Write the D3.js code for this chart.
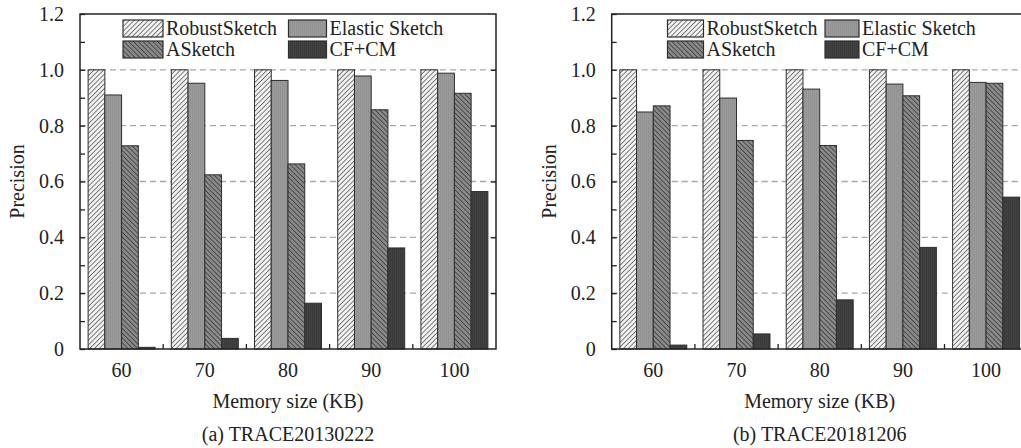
<!DOCTYPE html>
<html>
<head>
<meta charset="utf-8">
<script src="https://cdn.jsdelivr.net/npm/d3@7"></script>
<style>
  html, body { margin: 0; padding: 0; background: #fff; overflow: hidden; }
  svg { display: block; font-family: "Liberation Serif", serif; }
</style>
</head>
<body>
<svg id="fig" width="1021" height="448"></svg>
<script>
// Memory sizes (KB) on the x axis
const categories = ["60", "70", "80", "90", "100"];
const seriesNames = ["RobustSketch", "Elastic Sketch", "ASketch", "CF+CM"];

// Precision, trace (a) TRACE20130222
const traceA_robust  = [1.0, 1.0, 1.0, 1.0, 1.0];
const traceA_elastic = [0.910, 0.952, 0.962, 0.978, 0.988];
const traceA_asketch = [0.728, 0.624, 0.663, 0.857, 0.916];
const traceA_cfcm    = [0.006, 0.038, 0.164, 0.362, 0.564];

// Precision, trace (b) TRACE20181206
const traceB_robust  = [1.0, 1.0, 1.0, 1.0, 1.0];
const traceB_elastic = [0.849, 0.899, 0.931, 0.949, 0.955];
const traceB_asketch = [0.871, 0.747, 0.729, 0.907, 0.952];
const traceB_cfcm    = [0.014, 0.054, 0.176, 0.364, 0.544];

const yTicks = [0, 0.1, 0.2, 0.3, 0.4, 0.5, 0.6, 0.7, 0.8, 0.9, 1.0, 1.1, 1.2];
const yGrid = [0.2, 0.4, 0.6, 0.8, 1.0];

const svg = d3.select("#fig");
const FONT = "Liberation Serif, serif";
const FS = 20;

// ---- fill patterns ----
const defs = svg.append("defs");
const pRobust = defs.append("pattern").attr("id", "pat-robust")
  .attr("patternUnits", "userSpaceOnUse").attr("width", 3.4).attr("height", 3.4)
  .attr("patternTransform", "rotate(45)");
pRobust.append("rect").attr("width", 3.4).attr("height", 3.4).attr("fill", "#f2f2f2");
pRobust.append("line").attr("x1", 0).attr("y1", 0).attr("x2", 0).attr("y2", 3.4)
  .attr("stroke", "#3c3c3c").attr("stroke-width", 1.3);

const pAsk = defs.append("pattern").attr("id", "pat-asketch")
  .attr("patternUnits", "userSpaceOnUse").attr("width", 3.4).attr("height", 3.4)
  .attr("patternTransform", "rotate(-45)");
pAsk.append("rect").attr("width", 3.4).attr("height", 3.4).attr("fill", "#8a8a8a");
pAsk.append("line").attr("x1", 0).attr("y1", 0).attr("x2", 0).attr("y2", 3.4)
  .attr("stroke", "#3a3a3a").attr("stroke-width", 1.6);

const pEl = defs.append("pattern").attr("id", "pat-elastic")
  .attr("patternUnits", "userSpaceOnUse").attr("width", 2).attr("height", 2);
pEl.append("rect").attr("width", 2).attr("height", 2).attr("fill", "#9b9b9b");
pEl.append("line").attr("x1", 0.5).attr("y1", 0).attr("x2", 0.5).attr("y2", 2)
  .attr("stroke", "#929292").attr("stroke-width", 1);

const pCf = defs.append("pattern").attr("id", "pat-cfcm")
  .attr("patternUnits", "userSpaceOnUse").attr("width", 2).attr("height", 2);
pCf.append("rect").attr("width", 2).attr("height", 2).attr("fill", "#424242");
pCf.append("line").attr("x1", 0.5).attr("y1", 0).attr("x2", 0.5).attr("y2", 2)
  .attr("stroke", "#3a3a3a").attr("stroke-width", 1);

const fills = {
  "RobustSketch": "url(#pat-robust)",
  "Elastic Sketch": "url(#pat-elastic)",
  "ASketch": "url(#pat-asketch)",
  "CF+CM": "url(#pat-cfcm)"
};

function drawPanel(opts) {
  const { left, width, top, bottom, series, caption, legend } = opts;
  const g = svg.append("g");

  const x = d3.scaleBand().domain(categories)
    .range([left, left + width]).paddingInner(0.195).paddingOuter(0.0975);
  const xs = d3.scaleBand().domain(seriesNames).range([0, x.bandwidth()]);
  const y = d3.scaleLinear().domain([0, 1.2]).range([bottom, top]);

  // dashed grid
  g.append("g").selectAll("line").data(yGrid).join("line")
    .attr("x1", left).attr("x2", left + width)
    .attr("y1", d => y(d)).attr("y2", d => y(d))
    .attr("stroke", "#a8a8a8").attr("stroke-width", 1.3)
    .attr("stroke-dasharray", "6,4");

  // bars
  const rows = [];
  categories.forEach((c, i) => {
    seriesNames.forEach((s, j) => rows.push({ c, s, v: series[j][i] }));
  });
  g.append("g").selectAll("rect").data(rows).join("rect")
    .attr("x", d => x(d.c) + xs(d.s))
    .attr("y", d => y(d.v))
    .attr("width", xs.bandwidth())
    .attr("height", d => y(0) - y(d.v))
    .attr("fill", d => fills[d.s])
    .attr("stroke", "#2e2e2e").attr("stroke-width", 1);

  // left axis with inward ticks
  const yAxis = d3.axisLeft(y).tickValues(yTicks)
    .tickSizeInner(-5).tickSizeOuter(0).tickPadding(16)
    .tickFormat(d => {
      const k = Math.round(d * 10);
      if (k % 2 !== 0) return "";
      return k === 0 ? "0" : d3.format(".1f")(d);
    });
  const ya = g.append("g").attr("transform", `translate(${left},0)`).call(yAxis)
    .attr("font-family", FONT);
  ya.select(".domain").remove();
  ya.selectAll(".tick line").attr("stroke", "#222").attr("stroke-width", 1.3);
  ya.selectAll(".tick text").attr("font-size", FS).attr("fill", "#222");

  // right side inward ticks
  const ra = g.append("g").attr("transform", `translate(${left + width},0)`)
    .call(d3.axisRight(y).tickValues(yGrid).tickSizeInner(-5).tickSizeOuter(0).tickFormat(""));
  ra.select(".domain").remove();
  ra.selectAll(".tick line").attr("stroke", "#222").attr("stroke-width", 1.3);

  // bottom axis labels
  const xa = g.append("g").attr("transform", `translate(0,${bottom})`)
    .call(d3.axisBottom(x).tickSize(0).tickPadding(14))
    .attr("font-family", FONT);
  xa.select(".domain").remove();
  xa.selectAll(".tick text").attr("font-size", FS).attr("fill", "#222");

  // group separators on the x axis
  const seps = categories.slice(1).map(c => x(c) - x.step() * x.paddingInner() / 2);
  g.append("g").selectAll("line").data(seps).join("line")
    .attr("x1", d => d).attr("x2", d => d)
    .attr("y1", bottom).attr("y2", bottom - 5)
    .attr("stroke", "#222").attr("stroke-width", 1.3);

  // frame
  g.append("rect").attr("x", left).attr("y", top)
    .attr("width", width).attr("height", bottom - top)
    .attr("fill", "none").attr("stroke", "#222").attr("stroke-width", 1.5);

  // legend
  const lg = g.append("g").attr("font-family", FONT);
  seriesNames.forEach((s, i) => {
    const col = i % 2, row = Math.floor(i / 2);
    const sx = legend.cols[col], sy = legend.top + row * 21;
    lg.append("rect").attr("x", sx).attr("y", sy)
      .attr("width", legend.sw[col]).attr("height", 17)
      .attr("fill", fills[s]).attr("stroke", "#2e2e2e").attr("stroke-width", 1.2);
    lg.append("text").attr("x", sx + legend.sw[col] + 3).attr("y", sy + 15)
      .attr("font-size", FS).attr("fill", "#222").text(s);
  });

  // axis titles and caption
  const tg = g.append("g").attr("font-family", FONT).attr("font-size", FS).attr("fill", "#222");
  tg.append("text").attr("x", left + width / 2).attr("y", 408)
    .attr("text-anchor", "middle").text("Memory size (KB)");
  tg.append("text").attr("x", left + width / 2).attr("y", 441)
    .attr("text-anchor", "middle").text(caption);
  tg.append("text")
    .attr("transform", `translate(${left - 56},${(top + bottom) / 2}) rotate(-90)`)
    .attr("text-anchor", "middle").text("Precision");
}

drawPanel({
  left: 80, width: 416, top: 14, bottom: 349,
  series: [traceA_robust, traceA_elastic, traceA_asketch, traceA_cfcm],
  caption: "(a) TRACE20130222",
  legend: { cols: [123, 288.5], sw: [40, 38], top: 20 }
});

drawPanel({
  left: 611.7, width: 416, top: 14, bottom: 349,
  series: [traceB_robust, traceB_elastic, traceB_asketch, traceB_cfcm],
  caption: "(b) TRACE20181206",
  legend: { cols: [667.5, 825], sw: [36, 34], top: 20 }
});
</script>
</body>
</html>
